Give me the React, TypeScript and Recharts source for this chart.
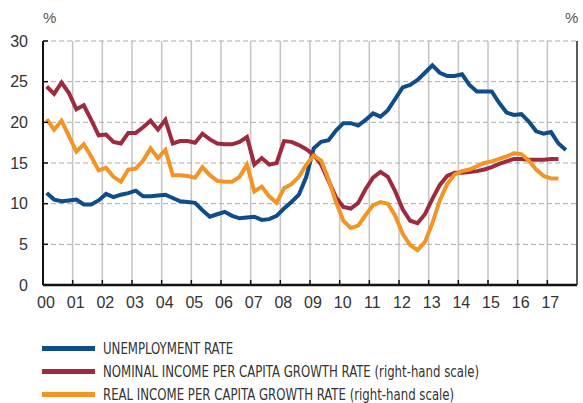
import React from 'react'
import { LineChart, Line, XAxis, YAxis, CartesianGrid } from 'recharts'

// quarterly series, 2000 Q1 onwards (%)
const unemployment = [
  11.3, 10.5, 10.3, 10.4,
  10.5, 9.9, 9.9, 10.4,
  11.2, 10.8, 11.1, 11.3,
  11.6, 10.9, 10.9, 11.0,
  11.1, 10.7, 10.3, 10.2,
  10.1, 9.2, 8.4, 8.7,
  9.0, 8.5, 8.2, 8.3,
  8.4, 8.0, 8.1, 8.5,
  9.4, 10.2, 11.1, 13.3,
  16.8, 17.6, 17.8, 19.0,
  19.9, 19.9, 19.6, 20.3,
  21.1, 20.7, 21.5, 22.9,
  24.3, 24.6, 25.2, 26.1,
  27.0, 26.1, 25.7, 25.7,
  25.9, 24.6, 23.8, 23.8,
  23.8, 22.4, 21.2, 20.9,
  21.0, 20.1, 18.9, 18.6,
  18.8, 17.4, 16.6,
]

const nominalIncome = [
  24.4, 23.5, 24.9, 23.6,
  21.6, 22.1, 20.3, 18.4,
  18.5, 17.6, 17.4, 18.7,
  18.7, 19.4, 20.2, 19.1,
  20.3, 17.4, 17.7, 17.7,
  17.5, 18.6, 17.9, 17.4,
  17.3, 17.3, 17.6, 18.2,
  14.8, 15.6, 14.8, 15.0,
  17.7, 17.6, 17.2, 16.7,
  16.0, 14.8, 12.8, 10.8,
  9.6, 9.4, 10.1, 11.8,
  13.2, 13.9, 13.3, 11.5,
  9.3, 7.9, 7.6, 8.7,
  10.6, 12.3, 13.4, 13.8,
  13.8, 13.9, 14.0, 14.2,
  14.5, 14.9, 15.2, 15.5,
  15.5, 15.4, 15.4, 15.4,
  15.5, 15.5,
]

const realIncome = [
  20.4, 19.1, 20.2, 18.3,
  16.4, 17.3, 15.8, 14.1,
  14.4, 13.3, 12.7, 14.2,
  14.3, 15.3, 16.8, 15.6,
  16.6, 13.5, 13.5, 13.4,
  13.2, 14.5, 13.5, 12.8,
  12.7, 12.7, 13.3, 14.8,
  11.5, 12.1, 10.9, 10.1,
  11.9, 12.4, 13.3, 14.8,
  15.9, 15.3, 13.0, 10.2,
  7.9, 7.0, 7.3, 8.6,
  9.8, 10.2, 10.0, 8.5,
  6.3, 4.9, 4.3, 5.3,
  7.6, 10.4, 12.4, 13.6,
  14.0, 14.2, 14.6, 15.0,
  15.2, 15.5, 15.8, 16.2,
  16.1, 15.3, 14.2, 13.4,
  13.1, 13.1,
]

const yearLabels = [
  '00', '01', '02', '03', '04', '05', '06', '07', '08',
  '09', '10', '11', '12', '13', '14', '15', '16', '17',
]
const yTicks = [0, 5, 10, 15, 20, 25, 30]

const legendItems = [
  { label: 'UNEMPLOYMENT RATE', color: '#0f4c8a' },
  { label: 'NOMINAL INCOME PER CAPITA GROWTH RATE (right-hand scale)', color: '#9d2a3f' },
  { label: 'REAL INCOME PER CAPITA GROWTH RATE (right-hand scale)', color: '#f39424' },
]

// quarter i sits in the middle of its quarter on a years-since-2000 axis
const data = unemployment.map((u, i) => ({
  t: i / 4 + 0.125,
  unemployment: u,
  nominal: nominalIncome[i] ?? null,
  real: realIncome[i] ?? null,
}))

const tickFont = { fontSize: 16, fill: '#333', fontFamily: 'Liberation Sans, Arial, sans-serif' }
const innerTick = { stroke: '#111', strokeWidth: 1.5 }

export default function App() {
  return (
    <div
      style={{
        position: 'absolute',
        left: 0,
        top: 0,
        width: 583,
        height: 403,
        background: '#fff',
        fontFamily: 'Liberation Sans, Arial, sans-serif',
      }}
    >
      <span style={{ position: 'absolute', left: 43, top: 9, fontSize: 15, color: '#555' }}>%</span>
      <span style={{ position: 'absolute', left: 565, top: 9, fontSize: 15, color: '#555' }}>%</span>

      <LineChart
        width={583}
        height={320}
        data={data}
        margin={{ top: 41, right: 0, left: 0, bottom: 5 }}
      >
        <CartesianGrid yAxisId="left" horizontal={false} stroke="#c4c4c4" strokeWidth={1.5} />
        <CartesianGrid yAxisId="left" vertical={false} stroke="#ababab" strokeDasharray="5 3" />
        <XAxis
          dataKey="t"
          type="number"
          domain={[0, 18]}
          ticks={yearLabels.map((_, i) => i)}
          tickFormatter={(v) => yearLabels[v]}
          height={30}
          tickLine={innerTick}
          tickSize={-5}
          tickMargin={17}
          dx={3}
          axisLine={{ stroke: '#111', strokeWidth: 2.5 }}
          tick={tickFont}
          interval={0}
        />
        <YAxis
          yAxisId="left"
          domain={[0, 30]}
          ticks={yTicks}
          width={43}
          tickLine={innerTick}
          tickSize={-5}
          tickMargin={20}
          axisLine={{ stroke: '#111', strokeWidth: 2 }}
          tick={tickFont}
          interval={0}
        />
        <YAxis
          yAxisId="right"
          orientation="right"
          domain={[0, 30]}
          ticks={yTicks}
          width={6}
          tick={false}
          tickSize={-5}
          tickLine={{ stroke: '#333', strokeWidth: 1.5 }}
          axisLine={{ stroke: '#333', strokeWidth: 1.5 }}
        />
        <Line
          yAxisId="left"
          dataKey="unemployment"
          stroke={legendItems[0].color}
          strokeWidth={4}
          dot={false}
          type="linear"
          isAnimationActive={false}
        />
        <Line
          yAxisId="right"
          dataKey="nominal"
          stroke={legendItems[1].color}
          strokeWidth={4}
          dot={false}
          type="linear"
          isAnimationActive={false}
        />
        <Line
          yAxisId="right"
          dataKey="real"
          stroke={legendItems[2].color}
          strokeWidth={4}
          dot={false}
          type="linear"
          isAnimationActive={false}
        />
      </LineChart>

      <div style={{ position: 'absolute', left: 42, top: 337 }}>
        {legendItems.map((item) => (
          <div key={item.label} style={{ display: 'flex', alignItems: 'center', height: 23 }}>
            <div style={{ width: 53, height: 5, background: item.color, marginRight: 8 }} />
            <span
              style={{
                fontFamily: 'Liberation Sans Narrow, DejaVu Sans Condensed, Arial, sans-serif',
                fontSize: 15,
                color: '#333',
                display: 'inline-block',
                whiteSpace: 'nowrap',
                transform: 'scaleX(0.87)',
                transformOrigin: 'left center',
              }}
            >
              {item.label}
            </span>
          </div>
        ))}
      </div>
    </div>
  )
}
